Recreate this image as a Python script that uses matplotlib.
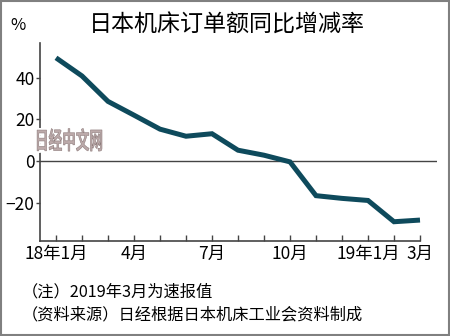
import matplotlib.pyplot as plt
import matplotlib.patheffects as pe
from matplotlib.patches import Rectangle, PathPatch
from matplotlib.textpath import TextPath
from matplotlib.font_manager import FontProperties
from matplotlib.transforms import Affine2D, IdentityTransform

plt.rcParams['font.family'] = ['Noto Sans CJK SC', 'DejaVu Sans']

# 2018年1月 ~ 2019年3月, 同比增减率(%)
months = list(range(15))
values = [49.5, 40.8, 28.6, 22.0, 15.3, 11.9, 13.1, 5.2, 2.8, -0.4,
          -16.6, -17.9, -18.9, -29.1, -28.3]
tick_pos = [0, 3, 6, 9, 12, 14]
tick_labels = ['18年1月', '4月', '7月', '10月', '19年1月', '3月']
y_ticks = [-20, 0, 20, 40]

line_color = '#0e4a5c'
axis_color = '#444444'

fig = plt.figure(figsize=(4.5, 3.36), dpi=100)
ax = fig.add_axes([0.0889, 0.2836, 0.882, 0.589])

ax.plot(months, values, color=line_color, lw=3.6, solid_capstyle='butt',
        solid_joinstyle='miter', zorder=3)
ax.axhline(0, color=axis_color, lw=1.0, zorder=2)

ax.set_xlim(-0.615, 14.65)
ax.set_ylim(-38.2, 56.7)

for s in ['top', 'right']:
    ax.spines[s].set_visible(False)
for s in ['left', 'bottom']:
    ax.spines[s].set_color(axis_color)
    ax.spines[s].set_linewidth(1.2)
ax.spines['bottom'].set_bounds(-0.615, 14)

ax.set_xticks(months)
ax.set_xticklabels(['' if m not in tick_pos else tick_labels[tick_pos.index(m)]
                    for m in months])
ax.tick_params(axis='x', direction='in', length=4, width=1, color=axis_color,
               labelsize=12.5, pad=3)
ax.set_yticks(y_ticks)
ax.tick_params(axis='y', direction='out', length=3, width=1, color=axis_color,
               labelsize=12.5, pad=1)

fig.text(0.505, 0.925, '日本机床订单额同比增减率', ha='center', va='center',
         fontsize=16.6)
fig.text(0.022, 0.925, '%', ha='left', va='center', fontsize=12)

# watermark (tall, outlined)
wm = TextPath((0, 0), '日经中文网', size=1,
              prop=FontProperties(family='Noto Sans CJK SC', weight='bold'))
wm_tr = Affine2D().scale(13.6, 24).translate(35, 187)
patch = PathPatch(wm_tr.transform_path(wm), transform=IdentityTransform(),
                  facecolor='#bcaaaa', edgecolor='#8c7a7a', lw=0.4, zorder=5,
                  path_effects=[pe.Stroke(linewidth=3, foreground='white'),
                                pe.Normal()])
fig.patches.append(patch)

fig.text(0.049, 0.132, '（注）2019年3月为速报值', ha='left', va='center',
         fontsize=11.7, fontweight='light')
fig.text(0.049, 0.062, '（资料来源）日经根据日本机床工业会资料制成', ha='left',
         va='center', fontsize=11.7, fontweight='light')

fig.patches.append(Rectangle((0.002, 0.003), 0.996, 0.994, transform=fig.transFigure,
                             fill=False, edgecolor='#808080', lw=1.5))

fig.savefig('out.png', dpi=100)
